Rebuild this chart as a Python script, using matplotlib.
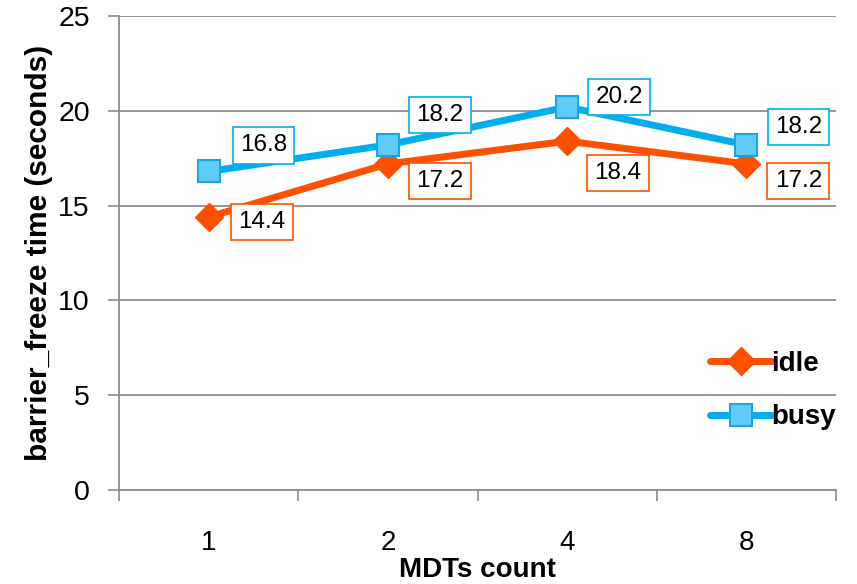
import matplotlib

matplotlib.use("Agg")
import matplotlib.pyplot as plt
import numpy as np

plt.rcParams["font.family"] = ["Liberation Sans", "DejaVu Sans"]

# data
categories = ["1", "2", "4", "8"]
idle = [14.4, 17.2, 18.4, 17.2]
busy = [16.8, 18.2, 20.2, 18.2]

# label offsets in pixels (layout only)
idle_off = [(53, -5), (52, -17), (51, -32), (52, -17)]
busy_off = [(55, 26), (52, 30), (52, 10), (52, 18)]

IDLE_C = "#FF5000"
BUSY_C = "#00AEEF"
GRID_C = "#8C8C8C"

fig = plt.figure(figsize=(8.57, 5.84), dpi=100)
ax = fig.add_axes([119 / 857, 94 / 584, 717 / 857, 474 / 584])

x = np.arange(len(categories))
ax.plot(x, idle, color=IDLE_C, lw=5, marker="D", ms=14, mfc=IDLE_C, mec=IDLE_C,
        label="idle", zorder=3, solid_capstyle="round")
ax.plot(x, busy, color=BUSY_C, lw=5, marker="s", ms=16, mfc="#5FCBF8", mec="#1BA6E3",
        mew=1.5, label="busy", zorder=4, solid_capstyle="round")

for xi, v, (dx, dy) in zip(x, idle, idle_off):
    ax.annotate(f"{v}", (xi, v), xytext=(dx * 0.72, dy * 0.72), textcoords="offset points",
                ha="center", va="center", fontsize=17.5, zorder=5,
                bbox=dict(boxstyle="square,pad=0.3", fc="white", ec=IDLE_C, lw=1.2))
for xi, v, (dx, dy) in zip(x, busy, busy_off):
    ax.annotate(f"{v}", (xi, v), xytext=(dx * 0.72, dy * 0.72), textcoords="offset points",
                ha="center", va="center", fontsize=17.5, zorder=5,
                bbox=dict(boxstyle="square,pad=0.3", fc="white", ec=BUSY_C, lw=1.2))

ax.set_ylim(0, 25)
ax.set_yticks(np.arange(0, 26, 5))
ax.set_xlim(-0.5, len(categories) - 0.5)
ax.set_xticks(np.arange(-0.5, len(categories)), labels=[""] * (len(categories) + 1))
ax.set_xticks(x, labels=categories, minor=True)
ax.tick_params(axis="x", which="major", length=8, color=GRID_C, width=1.2)
ax.tick_params(axis="x", which="minor", length=0, labelsize=20, pad=29)
ax.tick_params(axis="y", length=8, color=GRID_C, width=1.2, labelsize=20.5, pad=13)

ax.grid(axis="y", color=GRID_C, lw=1.3)
ax.set_axisbelow(True)
for s in ["top", "right"]:
    ax.spines[s].set_visible(False)
for s in ["left", "bottom"]:
    ax.spines[s].set_color(GRID_C)
    ax.spines[s].set_linewidth(1.3)

# x label placed by baseline so it sits just above the bottom edge
ax_mid = (119 + 836) / 2 / 857
fig.text(ax_mid, 1 - 577 / 584, "MDTs count", fontsize=20, fontweight="bold",
         ha="center", va="baseline")
ax.set_ylabel("barrier_freeze time (seconds)", fontsize=21.5, fontweight="bold", labelpad=4)

ax.legend(loc="center left", bbox_to_anchor=(0.79, 0.21), frameon=False, numpoints=1,
          handlelength=2.2, handletextpad=0.0, labelspacing=1.0,
          prop=dict(size=20, weight="bold"))

fig.savefig("out.png", dpi=100)
